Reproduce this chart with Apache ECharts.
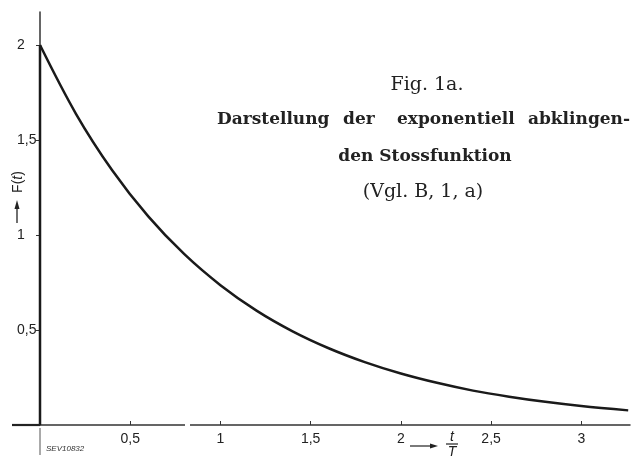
<!DOCTYPE html>
<html><head><meta charset="utf-8">
<script src="https://cdn.jsdelivr.net/npm/echarts@6/dist/echarts.min.js"></script>
<style>html,body{margin:0;padding:0;background:#fff}#c{width:638px;height:460px}</style>
</head><body><div id="c"></div>
<script>
// t/T values and F(t)
const tValues = [0, 0.2, 0.4, 0.6, 0.8, 1.0, 1.2, 1.4, 1.6, 1.8, 2.0, 2.2, 2.4, 2.6, 2.8, 3.0, 3.26];
const fValues = [2.0, 1.637, 1.341, 1.098, 0.899, 0.736, 0.602, 0.493, 0.404, 0.331, 0.271, 0.222, 0.181, 0.149, 0.122, 0.100, 0.077];
// vertical jump of the impulse at t = 0
const jumpT = [0, 0];
const jumpF = [0, 2.0];
const xTicks = [0.5, 1, 1.5, 2, 2.5, 3];
const yTicks = [0.5, 1, 1.5, 2];
const fmt = v => String(v).replace('.', ',');

const chart = echarts.init(document.getElementById('c'));
const serif = '"DejaVu Serif", serif';
const sans = '"Liberation Sans", Arial, sans-serif';
chart.setOption({
  animation: false,
  grid: {left: 40, right: 8, top: 12, bottom: 35, containLabel: false},
  xAxis: {
    type: 'value', min: 0, max: 3.27,
    axisLine: {show: true, onZero: false, lineStyle: {color: '#333', width: 1.5}},
    axisTick: {show: true, inside: true, length: 4, customValues: xTicks, lineStyle: {color: '#333', width: 1}},
    axisLabel: {show: true, customValues: xTicks, formatter: fmt, margin: 7, fontSize: 14, fontFamily: sans, color: '#222'},
    splitLine: {show: false}
  },
  yAxis: {
    type: 'value', min: 0, max: 2.174,
    axisLine: {show: true, onZero: false, lineStyle: {color: '#333', width: 1.5}},
    axisTick: {show: true, length: 4, customValues: yTicks, lineStyle: {color: '#333', width: 1}},
    axisLabel: {show: true, customValues: yTicks, formatter: fmt, align: 'left', margin: 23, fontSize: 14, fontFamily: sans, color: '#222'},
    splitLine: {show: false}
  },
  series: [{
    type: 'line', smooth: 0.35, symbol: 'none',
    data: tValues.map((t, i) => [t, fValues[i]]),
    lineStyle: {color: '#1a1a1a', width: 2.5}
  }, {
    type: 'line', symbol: 'none',
    data: jumpT.map((t, i) => [t, jumpF[i]]),
    lineStyle: {color: '#1a1a1a', width: 2.5}
  }],
  graphic: [
    {type: 'rect', shape: {x: 185, y: 420, width: 5, height: 10}, style: {fill: '#fff'}, z: 100},
    {type: 'line', shape: {x1: 12, y1: 425, x2: 40, y2: 425}, style: {stroke: '#222', lineWidth: 2.2}, z: 100},
    {type: 'line', shape: {x1: 40, y1: 428, x2: 40, y2: 455}, style: {stroke: '#555', lineWidth: 1}, z: 100},
    {type: 'text', x: 46, y: 449, style: {text: 'SEV10832', font: 'italic 8px ' + sans, fill: '#333', textVerticalAlign: 'middle'}},
    // y-axis name F(t) with arrow
    {type: 'text', x: 18, y: 182, rotation: Math.PI / 2, style: {text: '{a|F(}{b|t}{a|)}', rich: {a: {fontFamily: sans, fontSize: 14, fill: '#222'}, b: {fontFamily: sans, fontSize: 14, fontStyle: 'italic', fill: '#222'}}, align: 'center', verticalAlign: 'middle'}},
    {type: 'line', shape: {x1: 17, y1: 223, x2: 17, y2: 206}, style: {stroke: '#222', lineWidth: 1.3}},
    {type: 'polygon', shape: {points: [[17, 200], [14.5, 209], [19.5, 209]]}, style: {fill: '#222'}},
    // x-axis name -> t/T
    {type: 'line', shape: {x1: 410, y1: 446, x2: 432, y2: 446}, style: {stroke: '#222', lineWidth: 1.2}},
    {type: 'polygon', shape: {points: [[438, 446], [430, 443.5], [430, 448.5]]}, style: {fill: '#222'}},
    {type: 'text', x: 452, y: 437, style: {text: 't', font: 'italic 14px ' + sans, fill: '#222', align: 'center', verticalAlign: 'middle'}},
    {type: 'line', shape: {x1: 446, y1: 444, x2: 458, y2: 444}, style: {stroke: '#222', lineWidth: 1.2}},
    {type: 'text', x: 452, y: 452, style: {text: 'T', font: 'italic 14px ' + sans, fill: '#222', align: 'center', verticalAlign: 'middle'}},
    // caption
    {type: 'text', x: 427, y: 85, style: {text: 'Fig. 1a.', font: '19px ' + serif, fill: '#222', align: 'center', verticalAlign: 'middle'}},
    {type: 'text', x: 217, y: 120, style: {text: 'Darstellung', font: 'bold 17px ' + serif, fill: '#222', align: 'left', verticalAlign: 'middle'}},
    {type: 'text', x: 343, y: 120, style: {text: 'der', font: 'bold 17px ' + serif, fill: '#222', align: 'left', verticalAlign: 'middle'}},
    {type: 'text', x: 397, y: 120, style: {text: 'exponentiell', font: 'bold 17px ' + serif, fill: '#222', align: 'left', verticalAlign: 'middle'}},
    {type: 'text', x: 630, y: 120, style: {text: 'abklingen-', font: 'bold 17px ' + serif, fill: '#222', align: 'right', verticalAlign: 'middle'}},
    {type: 'text', x: 425, y: 157, style: {text: 'den Stossfunktion', font: 'bold 17px ' + serif, fill: '#222', align: 'center', verticalAlign: 'middle'}},
    {type: 'text', x: 423, y: 192, style: {text: '(Vgl. B, 1, a)', font: '19px ' + serif, fill: '#222', align: 'center', verticalAlign: 'middle'}}
  ]
});
</script></body></html>
